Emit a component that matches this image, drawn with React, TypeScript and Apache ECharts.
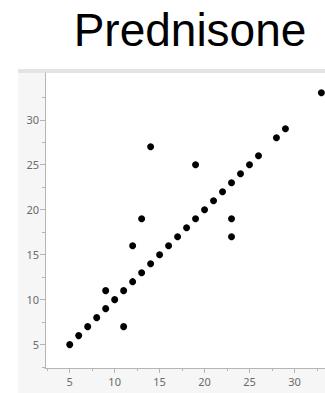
import React, { useEffect, useRef } from "react";
import * as echarts from "echarts";

const titleText = "Prednisone";
const xValues = [5, 6, 7, 8, 9, 9, 10, 11, 11, 12, 12, 13, 13, 14, 14, 15, 16, 17, 18, 19, 19, 20, 21, 22, 23, 23, 23, 24, 25, 26, 28, 29, 33];
const yValues = [5, 6, 7, 8, 9, 11, 10, 11, 7, 12, 16, 13, 19, 14, 27, 15, 16, 17, 18, 19, 25, 20, 21, 22, 23, 19, 17, 24, 25, 26, 28, 29, 33];
const xTicks = [5, 10, 15, 20, 25, 30];
const yTicks = [5, 10, 15, 20, 25, 30];
const xMinorTicks = [2.5, 7.5, 12.5, 17.5, 22.5, 27.5, 32.5];
const yMinorTicks = [2.5, 7.5, 12.5, 17.5, 22.5, 27.5, 32.5];

export default function App() {
  const ref = useRef<HTMLDivElement>(null);
  useEffect(() => {
    if (!ref.current) return;
    const chart = echarts.init(ref.current, null, { renderer: "svg" });
    const xMin = 2.25, xMax = 33.4, yMin = 2.4, yMax = 35.2;
    const axisColor = "#b5b5b5";
    const labelStyle = { color: "#6a6a6a", fontSize: 11, fontFamily: "Noto Sans" };
    const data = xValues.map((x, i) => [x, yValues[i]]);
    chart.setOption({
      animation: false,
      backgroundColor: "#fff",
      graphic: [
        { type: "rect", z: -10, shape: { x: 18, y: 69, width: 307, height: 324 }, style: { fill: "#f6f6f6" } },
        { type: "rect", z: -9, shape: { x: 18, y: 69, width: 307, height: 4 }, style: { fill: "#e4e4e4" } },
        {
          type: "text",
          x: 190,
          y: 30,
          style: {
            text: titleText,
            fontSize: 46,
            fontFamily: "Liberation Sans",
            fill: "#000",
            textAlign: "center",
            textVerticalAlign: "middle",
          },
        },
      ],
      grid: { left: 45, top: 73, right: 0, bottom: 25, show: true, backgroundColor: "#fff", borderWidth: 0 },
      xAxis: [
        {
          type: "value",
          min: xMin,
          max: xMax,
          splitLine: { show: false },
          axisLine: { show: true, lineStyle: { color: axisColor } },
          axisTick: { show: true, length: 5, customValues: xTicks, lineStyle: { color: axisColor } },
          axisLabel: { ...labelStyle, customValues: xTicks, margin: 8 },
        },
        {
          type: "value",
          min: xMin,
          max: xMax,
          position: "bottom",
          splitLine: { show: false },
          axisLine: { show: false },
          axisTick: { show: true, length: 3, customValues: xMinorTicks, lineStyle: { color: axisColor } },
          axisLabel: { show: false },
        },
      ],
      yAxis: [
        {
          type: "value",
          min: yMin,
          max: yMax,
          splitLine: { show: false },
          axisLine: { show: true, lineStyle: { color: axisColor } },
          axisTick: { show: true, length: 5, customValues: yTicks, lineStyle: { color: axisColor } },
          axisLabel: { ...labelStyle, customValues: yTicks, margin: 6 },
        },
        {
          type: "value",
          min: yMin,
          max: yMax,
          position: "left",
          splitLine: { show: false },
          axisLine: { show: false },
          axisTick: { show: true, length: 3, customValues: yMinorTicks, lineStyle: { color: axisColor } },
          axisLabel: { show: false },
        },
      ],
      series: [
        {
          type: "scatter",
          xAxisIndex: 0,
          yAxisIndex: 0,
          data,
          symbolSize: 7,
          itemStyle: { color: "#000", opacity: 1 },
          clip: true,
        },
      ],
    });
    return () => chart.dispose();
  }, []);
  return <div ref={ref} style={{ position: "fixed", left: 0, top: 0, width: 325, height: 393 }} />;
}
